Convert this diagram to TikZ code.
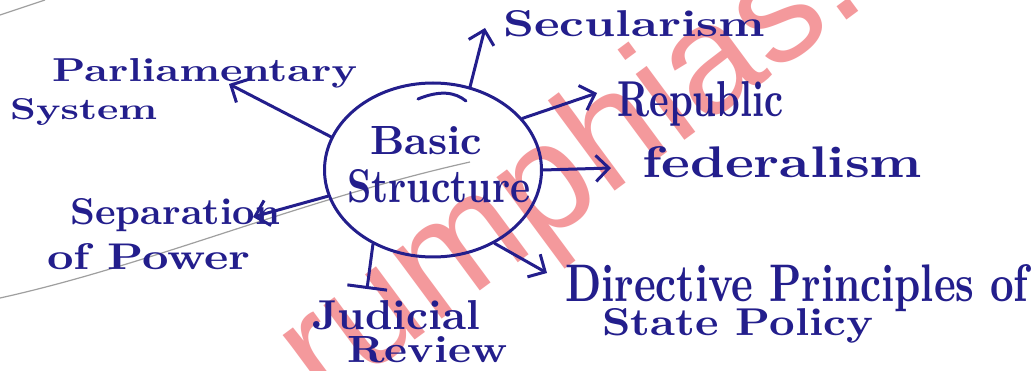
\documentclass[tikz,border=0pt]{standalone}
\usepackage{fontspec}
\usepackage{graphicx}
\usetikzlibrary{arrows.meta,shapes.geometric}
\newfontfamily\wmfont{Liberation Sans}
\definecolor{ink}{RGB}{35,30,140}
\definecolor{wm}{RGB}{240,110,115}
\newcommand{\hw}[3]{\resizebox{#1}{#2}{#3}}
\tikzset{
  inkline/.style={draw=ink, line width=3pt, line cap=round, line join=round},
  arr/.style={inkline, -{Straight Barb[length=13pt,width=26pt]}},
  barend/.style={inkline, -{Bar[width=40pt]}},
  lbl/.style={text=ink, inner sep=0pt, anchor=base west, font=\bfseries},
  pencil/.style={draw=gray!75, line width=1.2pt},
  wmark/.style={text=wm, opacity=0.7, rotate=36.5, anchor=base west, inner sep=0pt,
    font=\wmfont\fontsize{155}{155}\selectfont}
}
\begin{document}
\begin{tikzpicture}[x=1pt,y=-1pt]
\useasboundingbox (0,0) rectangle (1034,371);
\fill[white] (0,0) rectangle (1034,371);
% watermark
\begin{scope}
  \clip (0,0) rectangle (1034,371);
  \node[wmark] (wm) at (323,408) {rumphias.};
\end{scope}
% pencil strokes
\draw[pencil] (0,298) .. controls (150,265) and (300,200) .. (470,162);
\draw[pencil] (0,15) .. controls (15,10) and (30,5) .. (45,0);
% centre
\node[ellipse, inkline, minimum width=217pt, minimum height=174pt, inner sep=0pt] (bs) at (433,170) {};
\node[lbl] (basic) at (370,155) {\hw{112pt}{28pt}{Basic}};
\node[lbl] (struct) at (347,203) {\hw{183pt}{33pt}{Structure}};
\draw[inkline] (418,99) .. controls (440,90) and (455,92) .. (466,101);
% labels
\node[lbl] (parl1) at (52,82) {\hw{305pt}{23pt}{Parliamentary}};
\node[lbl] (parl2) at (10,120) {\hw{147pt}{21pt}{System}};
\node[lbl] (secu) at (503,37) {\hw{262pt}{26pt}{Secularism}};
\node[lbl] (repu) at (617,117) {\hw{166pt}{35pt}{Republic}};
\node[lbl] (fede) at (642,178) {\hw{280pt}{31pt}{federalism}};
\node[lbl] (dire1) at (565,302) {\hw{463pt}{37pt}{Directive Principles of}};
\node[lbl] (dire2) at (602,336) {\hw{271pt}{27pt}{State Policy}};
\node[lbl] (judi1) at (312,330) {\hw{168pt}{29pt}{Judicial}};
\node[lbl] (judi2) at (347,363) {\hw{160pt}{26pt}{Review}};
\node[lbl] (sepa1) at (70,225) {\hw{210pt}{26pt}{Separation}};
\node[lbl] (sepa2) at (47,270) {\hw{203pt}{26pt}{of Power}};
% arrow ends
\coordinate (parlT) at (229,84);
\coordinate (secuT) at (485,28);
\coordinate (repuT) at (597,93);
\coordinate (fedeT) at (611,168);
\coordinate (direT) at (547,273);
\coordinate (judiT) at (367,289);
\coordinate (sepaT) at (253,217);
% connectors
\draw[arr] (bs.162) -- (parlT);
\draw[arr] (bs.66) -- (secuT);
\draw[arr] (bs.30) -- (repuT);
\draw[arr] (bs.0) -- (fedeT);
\draw[arr] (bs.-50) -- (direT);
\draw[barend] (bs.-129) -- (judiT);
\draw[arr] (bs.-166) -- (sepaT);
\end{tikzpicture}
\end{document}
